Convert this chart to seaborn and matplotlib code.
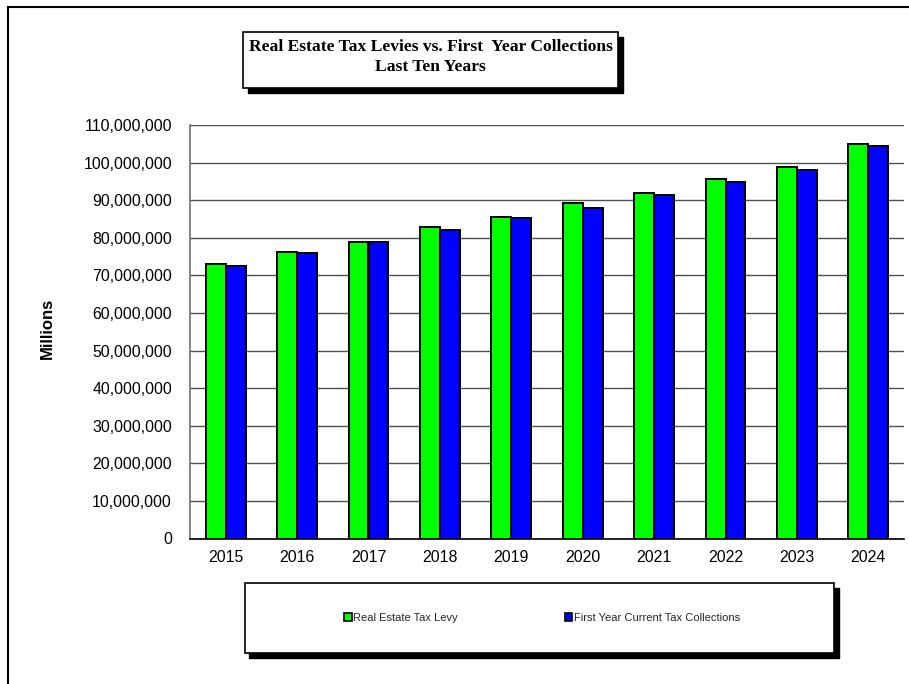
import matplotlib
matplotlib.use("Agg")
import matplotlib.pyplot as plt
from matplotlib.patches import Rectangle, Patch
from matplotlib.ticker import FuncFormatter, MultipleLocator
import seaborn as sns
import pandas as pd

years = ["2015", "2016", "2017", "2018", "2019", "2020", "2021", "2022", "2023", "2024"]
levy = [73.1e6, 76.3e6, 78.8e6, 82.9e6, 85.6e6, 89.2e6, 92.0e6, 95.7e6, 98.7e6, 104.9e6]
collections = [72.4e6, 75.9e6, 78.8e6, 82.2e6, 85.2e6, 87.9e6, 91.5e6, 94.9e6, 97.9e6, 104.3e6]
series_names = ["Real Estate Tax Levy", "First Year Current Tax Collections"]
series_colors = ["#00FF00", "#0000FF"]
title_lines = ["Real Estate Tax Levies vs. First  Year Collections", "Last Ten Years"]
y_label = "Millions"

df = pd.DataFrame({
    "Year": years * 2,
    "Value": levy + collections,
    "Series": [series_names[0]] * len(years) + [series_names[1]] * len(years),
})

sns.set_theme(style="white")
plt.rcParams["font.family"] = ["Liberation Sans", "DejaVu Sans"]

W, H = 909, 684
fig = plt.figure(figsize=(W / 100, H / 100), dpi=100)
ax = fig.add_axes([190 / W, 1 - 538.5 / H, (904 - 190) / W, (538.5 - 125) / H])

sns.barplot(data=df, x="Year", y="Value", hue="Series", order=years,
            hue_order=series_names, palette=series_colors, width=0.56,
            edgecolor="black", linewidth=1.4, saturation=1, ax=ax, legend=False)

ax.set_ylim(0, 110e6)
ax.set_xlim(-0.5, len(years) - 0.5)
ax.yaxis.set_major_locator(MultipleLocator(10e6))
ax.yaxis.set_major_formatter(FuncFormatter(lambda v, p: f"{int(round(v)):,}"))
ax.grid(axis="y", color="#505050", linewidth=1.0)
ax.set_axisbelow(True)
for s in ["top", "right"]:
    ax.spines[s].set_visible(False)
ax.spines["left"].set_color("#707070")
ax.spines["left"].set_linewidth(1.2)
ax.spines["bottom"].set_color("black")
ax.spines["bottom"].set_linewidth(1.2)
ax.tick_params(axis="y", length=0, pad=13, labelsize=11.4, labelcolor="black")
ax.tick_params(axis="x", length=0, pad=8.5, labelsize=11.4, labelcolor="black")
ax.set_xlabel("")
ax.set_ylabel("")
fig.text(47 / W, 1 - 328 / H, y_label, rotation=90, ha="center", va="center",
         fontsize=12, fontweight="bold", color="black")

# outer frame
fig.patches.append(Rectangle((8 / W, -0.5), 2, 0.5 + (1 - 7.5 / H), transform=fig.transFigure,
                             fill=False, edgecolor="black", linewidth=1.5))

def boxed(x0, y0, x1, y1, off=4.5):
    fig.patches.append(Rectangle(((x0 + off) / W, 1 - (y1 + off) / H), (x1 - x0) / W, (y1 - y0) / H,
                                 transform=fig.transFigure, facecolor="black", edgecolor="black"))
    fig.patches.append(Rectangle((x0 / W, 1 - y1 / H), (x1 - x0) / W, (y1 - y0) / H,
                                 transform=fig.transFigure, facecolor="white", edgecolor="black",
                                 linewidth=1.2))

# title box
boxed(243, 32, 618, 88)
fig.text(430.5 / W, 1 - 47 / H, title_lines[0], ha="center", va="center", fontsize=12.6,
         fontweight="bold", family=["Liberation Serif", "DejaVu Serif"], color="black")
fig.text(430.5 / W, 1 - 67 / H, title_lines[1], ha="center", va="center", fontsize=12.6,
         fontweight="bold", family=["Liberation Serif", "DejaVu Serif"], color="black")

# legend box
boxed(245, 583, 834, 653)
handles = [Patch(facecolor=c, edgecolor="black", linewidth=1.2) for c in series_colors]
leg = fig.legend(handles, series_names, loc="center", bbox_to_anchor=(542 / W, 1 - 618 / H),
                 ncol=2, frameon=False, fontsize=8, handlelength=0.7, handleheight=0.7,
                 handletextpad=0.1, columnspacing=9.6, borderaxespad=0)

fig.savefig("out.png", dpi=100)
